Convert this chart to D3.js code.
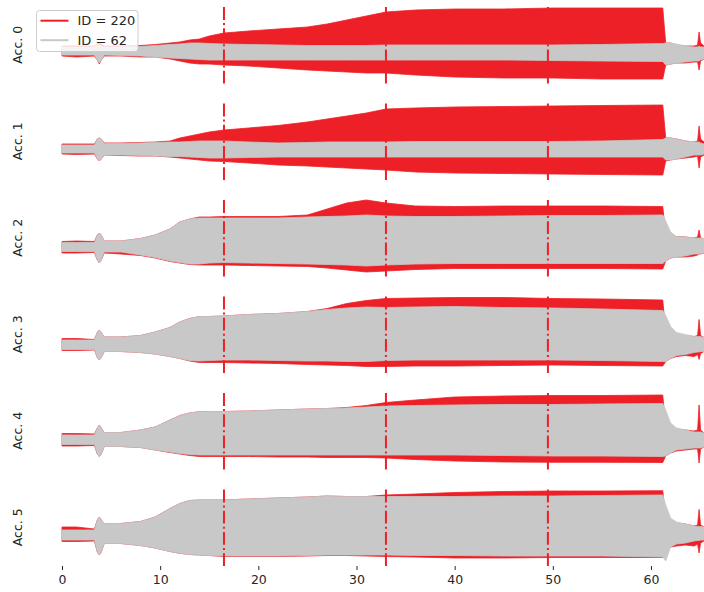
<!DOCTYPE html>
<html>
<head>
<meta charset="utf-8">
<script src="https://cdn.jsdelivr.net/npm/d3@7"></script>
<style>
  body { margin: 0; background: #fff; }
  svg { display: block; font-family: "DejaVu Sans", sans-serif; }
</style>
</head>
<body>
<svg id="chart" width="704" height="592"></svg>
<script>
// Time grid (s) on which the signal envelopes are sampled
const timeGrid = [0, 1.5, 3.3, 3.6, 3.8, 4.0, 4.3, 6, 8, 9.5, 11, 12, 13, 14, 15, 16.5, 19, 22, 25, 27,
  29, 31, 33, 36, 40, 45, 50, 55, 61.2, 61.5, 62, 62.6, 63.5, 64.4, 64.75, 64.9, 65.05, 65.4];

const sensorNames = ["Acc. 0", "Acc. 1", "Acc. 2", "Acc. 3", "Acc. 4", "Acc. 5"];
const runLabels = ["ID = 220", "ID = 62"];
const eventTimes = [16.5, 33, 49.5];
const xTickValues = [0, 10, 20, 30, 40, 50, 60];
// vertical limits of each sensor's amplitude axis
const amplitudeLimits = [[-32.5, 45], [-31, 46.5], [-29.5, 48], [-28.5, 49], [-29.5, 48], [-31, 46.5]];

// Run 220 envelopes (upper / lower amplitude)
const acc0Run220Upper = [5, 5, 5, 7, 8, 7, 5, 5, 5.5, 6.5, 8, 9, 11, 12, 15, 18, 20, 22, 24, 27, 31, 35, 39, 41, 42, 42, 43, 43, 43, 8, 8, 6, 5, 5, 6, 19, 8, 5];
const acc0Run220Lower = [-5, -6, -5, -9, -13, -9, -5, -5, -6, -6, -8, -10, -12, -13, -13, -14, -15, -17, -19, -20, -21, -22, -22, -24, -26, -27, -27, -28, -28, -14, -13, -12, -12, -11, -11, -19, -10, -8];
const acc1Run220Upper = [5, 5, 5, 10, 11, 10, 6, 6, 6.5, 7, 8, 11, 13, 15, 17, 19, 21, 23.5, 27, 30, 33, 36, 40, 41, 42, 42.5, 43, 43.5, 44, 11, 11, 10, 8, 7, 8, 23, 10, 7];
const acc1Run220Lower = [-5, -5.5, -5, -10, -12, -10, -6, -6.5, -7, -7, -8, -9, -10, -11, -12, -12.5, -14, -16, -17, -18, -19, -20, -21, -23, -24, -24.5, -25, -25.5, -26, -12, -11, -10, -9, -8, -7, -19, -8, -6];
const acc2Run220Upper = [5.5, 6, 5.5, 12, 14, 12, 6, 6, 8.5, 12, 18, 25, 28, 30, 30, 30.5, 30.5, 30.5, 32, 38, 44, 47, 44, 41, 40.5, 41, 41, 41, 40.5, 12, 11, 10.5, 10, 9, 10, 17, 9, 8];
const acc2Run220Lower = [-6, -6, -5.5, -13, -16, -13, -6, -7, -8.5, -11, -14.5, -16, -17.5, -18, -18, -18, -18.5, -19, -19.5, -21, -23, -25, -24, -22.5, -21.5, -21.5, -21.5, -21.5, -22, -14, -11, -10, -10, -9, -8, -7, -7, -6];
const acc3Run220Upper = [6, 6, 5, 12, 14.5, 12, 7.5, 7.5, 9, 12.5, 17, 22.5, 26, 28, 28, 28.5, 30, 31, 33, 36, 41, 44, 46, 46.5, 47, 47, 46, 45.5, 44.5, 12, 11, 10, 9, 8, 9, 25, 9, 7];
const acc3Run220Lower = [-6, -6, -5.5, -13, -15.5, -13, -7, -7, -8, -9.5, -12, -14, -16.5, -18, -18, -18, -18.5, -19, -20, -20.5, -21, -22, -22, -21.5, -21.5, -21, -20.5, -21, -21.5, -17, -14, -12, -11, -12, -10, -15, -9, -7];
const acc4Run220Upper = [6.5, 6.5, 6, 12, 15, 12, 7.5, 7.5, 10, 13, 20, 24.5, 27, 28.3, 28.5, 28.5, 29, 30, 31, 31.5, 32.5, 34.5, 37.5, 40, 43, 44, 44.5, 44.5, 45, 12, 12, 11, 10, 9, 10, 35, 10, 7];
const acc4Run220Lower = [-6, -6, -5.5, -14, -16.5, -14, -6.5, -6.5, -7.5, -10, -12.5, -14, -15.5, -16.5, -16.5, -16.5, -16.5, -17, -17, -17.5, -17.5, -17.5, -18, -19.5, -21, -22, -22.3, -22.3, -22.5, -16, -13, -11, -10, -9, -9, -23, -9, -7];
const acc5Run220Upper = [8, 8, 6, 15, 18, 15, 11.5, 11.5, 13.5, 18, 26.5, 31.5, 34.5, 35, 35, 35, 36, 37, 38, 39, 38.5, 38.5, 40, 41, 42.5, 43.5, 44, 44, 44.3, 14, 13, 12, 11, 9, 10, 25.5, 10, 8];
const acc5Run220Lower = [-6.5, -6.5, -6, -17, -20, -17, -8.5, -8.5, -10.5, -13, -16.5, -18.3, -19.5, -20, -20.5, -21.5, -21.5, -21.5, -21, -20.5, -20.5, -21, -21.5, -22, -23, -23, -22.5, -22.5, -22.5, -14, -12, -11, -10, -11, -9, -18, -8, -6];

// Run 62 envelopes (upper / lower amplitude)
const acc0Run62Upper = [4, 4, 4, 6, 6, 5, 4, 4, 4.5, 5.5, 6.5, 7, 8, 8, 7.5, 7, 6.5, 6, 5.5, 5.5, 5.5, 5.5, 6, 6, 6, 6, 6, 6.5, 7.5, 8, 8, 7, 5, 4, 4, 5, 4, 4];
const acc0Run62Lower = [-4, -4, -4, -9, -12, -9, -4, -4.5, -5, -6, -7, -7.5, -8, -8.5, -9, -9, -9, -9, -9, -9, -9, -9, -9, -9, -9, -9, -9.5, -10, -10.5, -14, -13, -12, -11, -10, -10, -10, -9, -8];
const acc1Run62Upper = [4, 4, 4, 10, 11, 10, 5.5, 5.5, 6, 6.5, 7, 7, 7.5, 8, 8, 8, 7, 6, 6.5, 7, 7, 7, 7, 7.5, 7.5, 7.5, 7.5, 8, 9.5, 11, 11, 10, 8, 7, 7, 7, 6, 5];
const acc1Run62Lower = [-4, -4, -4, -10, -12, -10, -6, -6, -6.5, -7, -7.5, -7.5, -8, -8.5, -9, -9, -8.5, -8, -8, -8, -8, -8, -8, -8, -8, -8, -8, -8, -8, -11, -11, -10, -8, -6, -6, -6, -6, -5];
const acc2Run62Upper = [4.5, 4.5, 4.5, 12, 14, 12, 6, 6, 8.5, 12, 18, 25, 28, 29, 29, 29, 29, 29, 30, 30.5, 31, 32, 31, 30.5, 30.5, 31, 31.5, 31.5, 32, 26, 15, 10.5, 10, 9, 9, 9, 9, 8.5];
const acc2Run62Lower = [-4.5, -4.5, -4.5, -13, -16, -13, -5, -5, -8, -10.5, -14, -15.5, -17, -17, -16, -15.5, -16, -16.5, -17, -17.5, -18, -19, -18, -17, -16.5, -16.5, -16.5, -16.5, -16.5, -14, -11, -10, -9, -7, -7, -7, -6.5, -6];
const acc3Run62Upper = [4.5, 4.5, 4.5, 12, 14.5, 12, 7.5, 7.5, 9, 12.5, 17, 22.5, 26, 28, 28, 28.5, 30, 31, 33, 35, 36.5, 37.5, 37, 37.5, 38, 37, 36.5, 35.5, 34, 29, 18, 12, 10, 8, 8, 8, 8, 7];
const acc3Run62Lower = [-5, -5, -5, -13, -15.5, -13, -7, -7, -8, -9.5, -12, -14, -16, -16.5, -16, -15.5, -15.5, -16, -16.5, -16.5, -17, -17, -16, -15.5, -15.5, -15.5, -15.5, -16, -17, -17, -14, -11, -10, -8, -7.5, -7.5, -7, -7];
const acc4Run62Upper = [5, 5, 5, 12, 15, 12, 7.5, 7.5, 10, 13, 20, 24.5, 27, 28.3, 28.5, 28.5, 29, 30, 31, 31.5, 32, 33, 34, 34.5, 35, 35.5, 35.5, 36, 36.5, 30, 17, 12, 10, 8, 8, 8, 8, 7];
const acc4Run62Lower = [-4.5, -4.5, -4.5, -14, -16.5, -14, -6.5, -6.5, -7.5, -10, -12, -13.5, -14.5, -15, -15, -15, -15, -15, -15, -15, -15, -15, -15, -15, -15, -15.5, -16, -16, -16.5, -16, -13, -10, -9, -8, -8, -8, -8, -7];
const acc5Run62Upper = [5, 5, 5, 15, 18, 15, 11.5, 11.5, 13.5, 18, 26.5, 31.5, 34.5, 35, 35, 35, 36, 37, 38, 39, 38.5, 38.5, 38.5, 38.5, 38.5, 39, 39, 39.5, 40, 30, 17, 13, 11, 9, 8.5, 8.5, 8.5, 8];
const acc5Run62Lower = [-5, -5, -5, -17, -20, -17, -8.5, -8.5, -10.5, -13, -16.5, -18.3, -19.5, -20, -20.5, -21, -21, -21, -20.5, -20, -20, -20, -20, -20.5, -20.5, -21, -21, -21, -22, -26, -12, -9, -8, -6, -5.5, -5.5, -5, -5];

const run220 = [
  [acc0Run220Lower, acc0Run220Upper], [acc1Run220Lower, acc1Run220Upper], [acc2Run220Lower, acc2Run220Upper],
  [acc3Run220Lower, acc3Run220Upper], [acc4Run220Lower, acc4Run220Upper], [acc5Run220Lower, acc5Run220Upper]
];
const run62 = [
  [acc0Run62Lower, acc0Run62Upper], [acc1Run62Lower, acc1Run62Upper], [acc2Run62Lower, acc2Run62Upper],
  [acc3Run62Lower, acc3Run62Upper], [acc4Run62Lower, acc4Run62Upper], [acc5Run62Lower, acc5Run62Upper]
];

const RED = "#ee2027";
const GRAY = "#c8c8c8";
const TEXT = "#262626";

const svg = d3.select("#chart");
const plotLeft = 62, plotRight = 704;
const panelTop0 = 6, panelStep = 96.5, panelHeight = 77.5;

const x = d3.scaleLinear().domain([0, 65.4]).range([plotLeft, plotRight]);

sensorNames.forEach((name, i) => {
  const g = svg.append("g").attr("transform", `translate(0,${panelTop0 + i * panelStep})`);
  const y = d3.scaleLinear().domain(amplitudeLimits[i]).range([panelHeight, 0]);
  const area = d3.area()
    .x((d, j) => x(timeGrid[j]))
    .y0(d => y(d[0]))
    .y1(d => y(d[1]));

  g.append("path").datum(d3.zip(run220[i][0], run220[i][1]))
    .attr("d", area).attr("fill", RED)
    .attr("stroke", RED).attr("stroke-width", 0.8).attr("stroke-linejoin", "round");
  g.append("path").datum(d3.zip(run62[i][0], run62[i][1]))
    .attr("d", area).attr("fill", GRAY)
    .attr("stroke", GRAY).attr("stroke-width", 0.8).attr("stroke-linejoin", "round");

  eventTimes.forEach(t => {
    g.append("line")
      .attr("x1", x(t)).attr("x2", x(t))
      .attr("y1", panelHeight).attr("y2", 0)
      .attr("stroke", RED).attr("stroke-width", 2)
      .attr("stroke-dasharray", "12.8,3.2,2,3.2");
  });

  g.append("text")
    .attr("transform", `translate(22,${panelHeight / 2}) rotate(-90)`)
    .attr("text-anchor", "middle")
    .attr("font-size", 12.5)
    .attr("fill", TEXT)
    .text(name);
});

// shared time axis under the last panel
const axisY = panelTop0 + 5 * panelStep + panelHeight;
const xAxis = svg.append("g")
  .attr("transform", `translate(0,${axisY})`)
  .call(d3.axisBottom(x).tickValues(xTickValues).tickSize(4).tickPadding(5).tickFormat(d3.format("d")));
xAxis.select(".domain").remove();
xAxis.selectAll(".tick line").attr("stroke", TEXT).attr("stroke-width", 1);
xAxis.selectAll(".tick text").attr("fill", TEXT).attr("font-size", 12.5)
  .attr("font-family", "DejaVu Sans, sans-serif");

// legend
const legend = svg.append("g").attr("transform", "translate(36.5,10.5)");
legend.append("rect")
  .attr("width", 101.5).attr("height", 41).attr("rx", 3)
  .attr("fill", "#fff").attr("fill-opacity", 0.8)
  .attr("stroke", "#cccccc").attr("stroke-width", 1);
[RED, GRAY].forEach((c, k) => {
  const ly = 10.2 + k * 19.5;
  legend.append("line")
    .attr("x1", 4).attr("x2", 32).attr("y1", ly).attr("y2", ly)
    .attr("stroke", c).attr("stroke-width", 2);
  legend.append("text")
    .attr("x", 41).attr("y", ly).attr("dy", "0.36em")
    .attr("font-size", 13).attr("fill", TEXT)
    .text(runLabels[k]);
});
</script>
</body>
</html>
